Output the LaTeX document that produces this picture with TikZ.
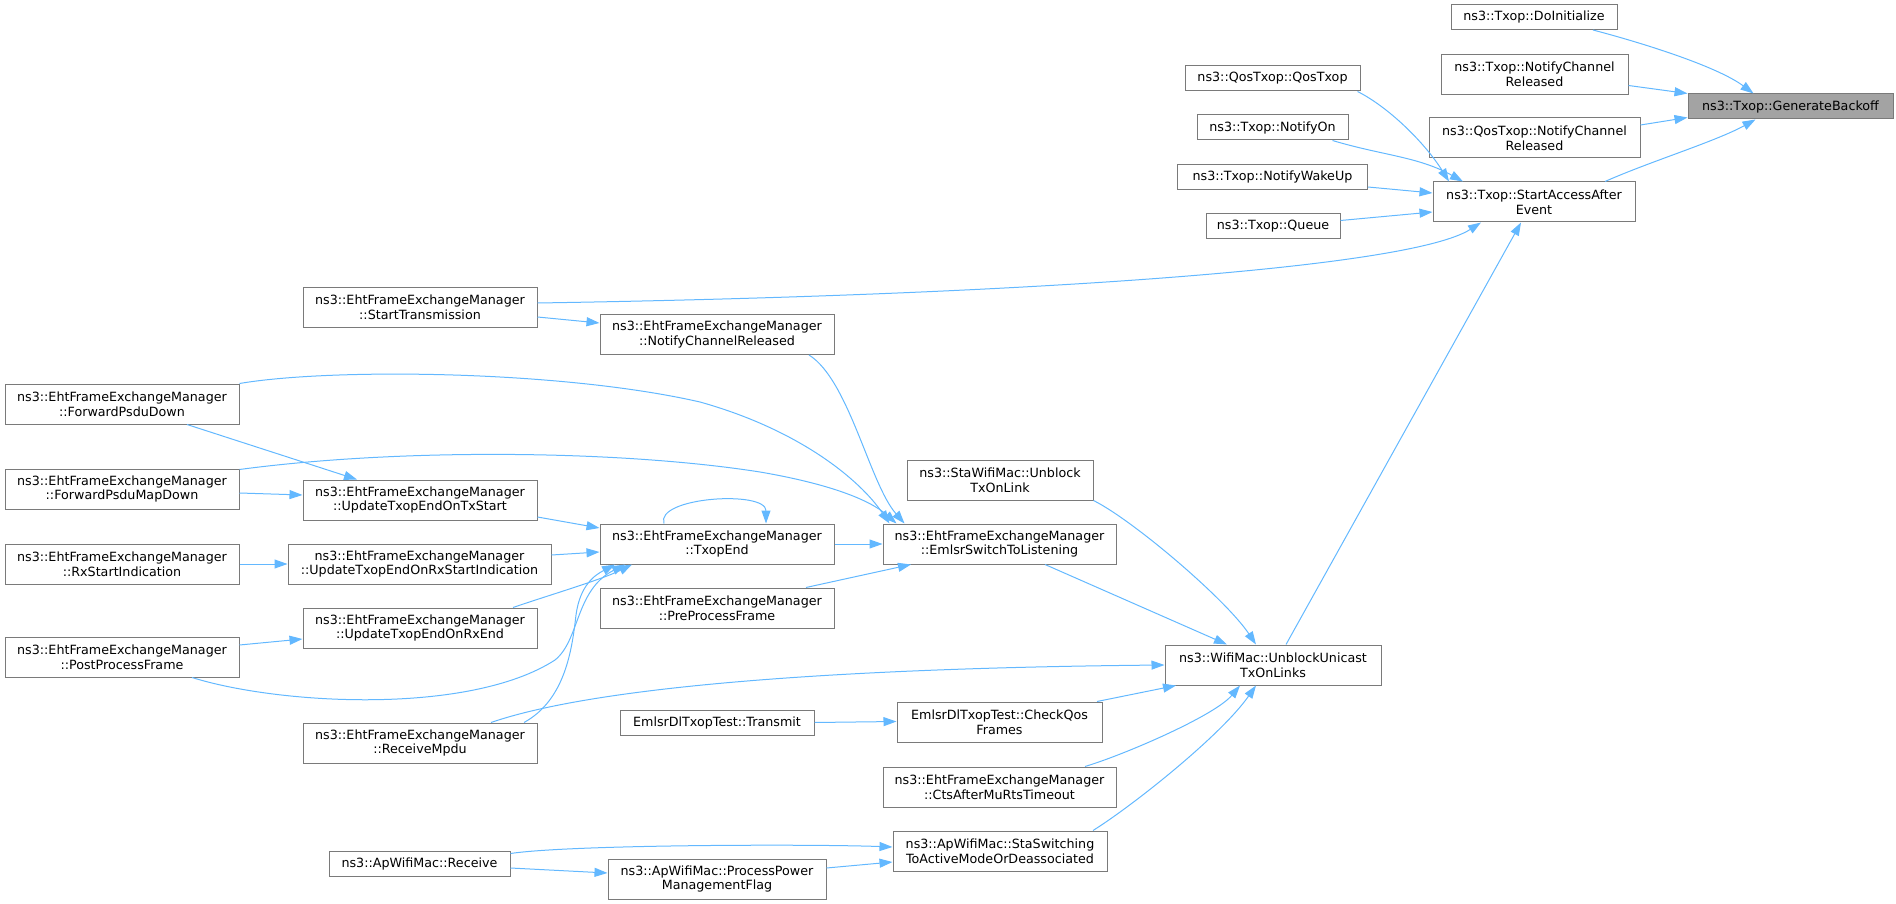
\documentclass[tikz,border=0pt]{standalone}
\usepackage{fontspec}
\setmainfont{DejaVu Sans}
\usetikzlibrary{arrows.meta}
\definecolor{edgeblue}{HTML}{63B8FF}
\definecolor{boxborder}{HTML}{7A7A7A}
\definecolor{hlfill}{HTML}{A3A3A3}
\begin{document}
\begin{tikzpicture}[x=1pt,y=-1pt,
  nbox/.style={draw=boxborder, fill=white, line width=1pt, inner sep=0pt, align=center,
    font=\fontsize{12.7}{14.7}\selectfont},
  two/.style={minimum height=40pt},
  one/.style={minimum height=25pt},
  conn/.style={draw=edgeblue, line width=1pt, -{Triangle[length=13pt,width=9pt]}}]
\useasboundingbox (0,0) rectangle (1896,904);
% nodes
\node[nbox,one,minimum width=166pt] (DoInit) at (1534,17) {ns3::Txop::DoInitialize};
\node[nbox,two,minimum width=187pt] (TNCR) at (1534.5,74.5) {ns3::Txop::NotifyChannel\\Released};
\node[nbox,one,minimum width=205pt,fill=hlfill] (GB) at (1790.5,106.5) {ns3::Txop::GenerateBackoff};
\node[nbox,two,minimum width=211pt] (QNCR) at (1534.5,138) {ns3::QosTxop::NotifyChannel\\Released};
\node[nbox,one,minimum width=175pt] (QosTxop) at (1272.5,78.5) {ns3::QosTxop::QosTxop};
\node[nbox,one,minimum width=151pt] (NotifyOn) at (1272.5,127.5) {ns3::Txop::NotifyOn};
\node[nbox,one,minimum width=190pt] (NWU) at (1272.5,177) {ns3::Txop::NotifyWakeUp};
\node[nbox,two,minimum width=202pt] (SAAE) at (1534,202) {ns3::Txop::StartAccessAfter\\Event};
\node[nbox,one,minimum width=134pt] (Queue) at (1273,226.5) {ns3::Txop::Queue};
\node[nbox,two,minimum width=234pt] (ST) at (420,307) {ns3::EhtFrameExchangeManager\\::StartTransmission};
\node[nbox,two,minimum width=234pt] (NCR) at (717,334.5) {ns3::EhtFrameExchangeManager\\::NotifyChannelReleased};
\node[nbox,two,minimum width=234pt] (FPD) at (122,404) {ns3::EhtFrameExchangeManager\\::ForwardPsduDown};
\node[nbox,two,minimum width=234pt] (FPMD) at (122,489) {ns3::EhtFrameExchangeManager\\::ForwardPsduMapDown};
\node[nbox,two,minimum width=234pt] (UTx) at (420,500) {ns3::EhtFrameExchangeManager\\::UpdateTxopEndOnTxStart};
\node[nbox,two,minimum width=234pt] (TxopEnd) at (717,544) {ns3::EhtFrameExchangeManager\\::TxopEnd};
\node[nbox,two,minimum width=234pt] (RxSI) at (122,564) {ns3::EhtFrameExchangeManager\\::RxStartIndication};
\node[nbox,two,minimum width=263pt] (URxSI) at (419.5,564) {ns3::EhtFrameExchangeManager\\::UpdateTxopEndOnRxStartIndication};
\node[nbox,two,minimum width=234pt] (URxEnd) at (420,628) {ns3::EhtFrameExchangeManager\\::UpdateTxopEndOnRxEnd};
\node[nbox,two,minimum width=234pt] (PP) at (122,657) {ns3::EhtFrameExchangeManager\\::PostProcessFrame};
\node[nbox,two,minimum width=234pt] (RM) at (420,743) {ns3::EhtFrameExchangeManager\\::ReceiveMpdu};
\node[nbox,one,minimum width=181pt] (Recv) at (419.5,863.5) {ns3::ApWifiMac::Receive};
\node[nbox,two,minimum width=233pt] (Emlsr) at (999.5,544) {ns3::EhtFrameExchangeManager\\::EmlsrSwitchToListening};
\node[nbox,two,minimum width=186pt] (StaUB) at (1000,480) {ns3::StaWifiMac::Unblock\\TxOnLink};
\node[nbox,two,minimum width=234pt] (PreP) at (717,608) {ns3::EhtFrameExchangeManager\\::PreProcessFrame};
\node[nbox,two,minimum width=216pt] (UU) at (1273,665) {ns3::WifiMac::UnblockUnicast\\TxOnLinks};
\node[nbox,one,minimum width=194pt] (Transmit) at (717,722.5) {EmlsrDlTxopTest::Transmit};
\node[nbox,two,minimum width=205pt] (CheckQos) at (999.5,722) {EmlsrDlTxopTest::CheckQos\\Frames};
\node[nbox,two,minimum width=233pt] (Cts) at (999.5,787) {ns3::EhtFrameExchangeManager\\::CtsAfterMuRtsTimeout};
\node[nbox,two,minimum width=214pt] (SS) at (1000,851) {ns3::ApWifiMac::StaSwitching\\ToActiveModeOrDeassociated};
\node[nbox,two,minimum width=218pt] (PPower) at (717,879) {ns3::ApWifiMac::ProcessPower\\ManagementFlag};
% connectors
\draw[conn] ([xshift=59pt]DoInit.south) .. controls +(57,15) and +(-35,-26) .. ([xshift=-37pt]GB.north);
\draw[conn] ([yshift=-11pt]TNCR.east) -- ([yshift=13pt]GB.west);
\draw[conn] ([yshift=13pt]QNCR.east) -- ([yshift=-11pt]GB.west);
\draw[conn] ([xshift=71pt]SAAE.north) .. controls +(45,-20) and +(-40,22) .. ([xshift=-35pt]GB.south);
\draw[conn] ([xshift=-3pt]QosTxop.south east) .. controls +(30,15) and +(-25,-40) .. ([xshift=-85pt]SAAE.north);
\draw[conn] ([xshift=60pt]NotifyOn.south) .. controls +(50,15) and +(-45,-25) .. ([xshift=-71pt]SAAE.north);
\draw[conn] ([yshift=-10pt]NWU.east) -- ([yshift=9pt]SAAE.west);
\draw[conn] ([yshift=6pt]Queue.east) -- ([yshift=-10pt]SAAE.west);
\draw[conn] ([yshift=4pt]ST.east) .. controls +(500,-8) and +(-70,45) .. ([xshift=-53pt]SAAE.south);
\draw[conn] ([yshift=-10pt]ST.east) -- ([yshift=11.5pt]NCR.west);
\draw[conn] ([xshift=92pt]NCR.south) .. controls +(40,25) and +(-35,-40) .. ([xshift=-95pt]Emlsr.north);
\draw[conn] (FPD.north east) .. controls (330,368) and (560,370) .. (700,402) .. controls (800,430) and (860,480) .. ([xshift=-110pt]Emlsr.north);
\draw[conn] ([yshift=-1pt]FPMD.north east) .. controls (400,448) and (620,450) .. (760,472) .. controls (830,484) and (870,500) .. ([xshift=-103pt]Emlsr.north);
\draw[conn] ([xshift=65pt]FPD.south) -- ([xshift=-63pt]UTx.north);
\draw[conn] ([yshift=-4pt]FPMD.east) -- ([yshift=5pt]UTx.west);
\draw[conn] ([yshift=-17pt]UTx.east) -- ([yshift=16pt]TxopEnd.west);
\draw[conn] (RxSI.east) -- (URxSI.west);
\draw[conn] ([yshift=9pt]URxSI.east) -- ([yshift=-8pt]TxopEnd.west);
\draw[conn] ([yshift=12pt]PP.east) -- ([yshift=-11pt]URxEnd.west);
\draw[conn] ([xshift=70pt]PP.south) .. controls (280,705) and (470,715) .. (555,660) .. controls (580,640) and (575,590) .. ([xshift=-92pt]TxopEnd.south);
\draw[conn] ([xshift=93pt]URxEnd.north) .. controls +(35,-12) and +(-30,15) .. ([xshift=-85pt]TxopEnd.south);
\draw[conn] ([xshift=104pt]RM.north) .. controls (565,700) and (572,650) .. (576,615) .. controls (580,585) and (595,575) .. ([xshift=-102pt]TxopEnd.south);
\draw[conn] ([xshift=-53pt]TxopEnd.north) .. controls (655,497) and (766,490) .. ([xshift=49pt]TxopEnd.north);
\draw[conn] (TxopEnd.east) -- (Emlsr.west);
\draw[conn] ([xshift=89pt]PreP.north) -- ([xshift=-88.5pt]Emlsr.south);
\draw[conn] ([xshift=45.5pt]Emlsr.south) -- ([xshift=-46pt]UU.north);
\draw[conn] (StaUB.south east) .. controls +(40,20) and +(-30,-45) .. ([xshift=-17pt]UU.north);
\draw[conn] ([xshift=13pt]UU.north) -- ([xshift=-13pt]SAAE.south);
\draw[conn] ([xshift=71pt]RM.north) .. controls (600,685) and (850,668) .. (UU.west);
\draw[conn] (Transmit.east) -- ([yshift=0.5pt]CheckQos.west);
\draw[conn] ([xshift=97.5pt]CheckQos.north) -- ([xshift=-97pt]UU.south);
\draw[conn] ([xshift=85.5pt]Cts.north) .. controls +(40,-12) and +(-25,30) .. ([xshift=-33pt]UU.south);
\draw[conn] ([xshift=93pt]SS.north) .. controls +(40,-25) and +(-35,50) .. ([xshift=-17pt]UU.south);
\draw[conn] ([yshift=10pt]Recv.east) .. controls +(60,-9) and +(-80,-3) .. ([yshift=4pt]SS.west);
\draw[conn] ([yshift=-4.5pt]Recv.east) -- ([yshift=6pt]PPower.west);
\draw[conn] ([yshift=11pt]PPower.east) -- ([yshift=-11pt]SS.west);
\end{tikzpicture}
\end{document}
